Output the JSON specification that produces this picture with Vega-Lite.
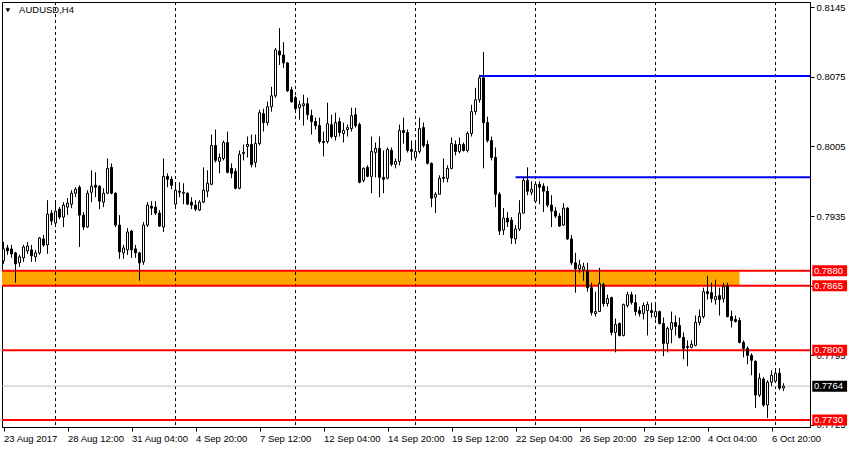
{
"$schema": "https://vega.github.io/schema/vega-lite/v6.json",
"width": 808, "height": 425,
"autosize": {"type": "none"},
"padding": {"left": 2, "top": 2, "right": 40, "bottom": 23},
"background": "white",
"config": {"view": {"stroke": "black", "strokeWidth": 1}, "font": "Liberation Sans", "scale": {"continuousPadding": 0}},
"datasets": {"candles": [
{"i":0,"o":0.7890,"h":0.7909,"l":0.7887,"c":0.7902},
{"i":1,"o":0.7903,"h":0.7906,"l":0.7896,"c":0.7900},
{"i":2,"o":0.7902,"h":0.7906,"l":0.7893,"c":0.7897},
{"i":3,"o":0.7898,"h":0.7899,"l":0.7868,"c":0.7887},
{"i":4,"o":0.7888,"h":0.7896,"l":0.7884,"c":0.7894},
{"i":5,"o":0.7893,"h":0.7906,"l":0.7889,"c":0.7904},
{"i":6,"o":0.7900,"h":0.7909,"l":0.7897,"c":0.7905},
{"i":7,"o":0.7901,"h":0.7906,"l":0.7889,"c":0.7895},
{"i":8,"o":0.7894,"h":0.7901,"l":0.7889,"c":0.7898},
{"i":9,"o":0.7898,"h":0.7914,"l":0.7896,"c":0.7913},
{"i":10,"o":0.7912,"h":0.7916,"l":0.7904,"c":0.7906},
{"i":11,"o":0.7906,"h":0.7951,"l":0.7897,"c":0.7937},
{"i":12,"o":0.7938,"h":0.7941,"l":0.7926,"c":0.7930},
{"i":13,"o":0.7928,"h":0.7951,"l":0.7924,"c":0.7940},
{"i":14,"o":0.7942,"h":0.7944,"l":0.7932,"c":0.7934},
{"i":15,"o":0.7934,"h":0.7949,"l":0.7924,"c":0.7946},
{"i":16,"o":0.7944,"h":0.7953,"l":0.7936,"c":0.7948},
{"i":17,"o":0.7947,"h":0.7961,"l":0.7943,"c":0.7958},
{"i":18,"o":0.7958,"h":0.7964,"l":0.7954,"c":0.7962},
{"i":19,"o":0.7964,"h":0.7966,"l":0.7904,"c":0.7936},
{"i":20,"o":0.7936,"h":0.7939,"l":0.7921,"c":0.7924},
{"i":21,"o":0.7924,"h":0.7961,"l":0.7923,"c":0.7958},
{"i":22,"o":0.7959,"h":0.7981,"l":0.7949,"c":0.7965},
{"i":23,"o":0.7966,"h":0.7979,"l":0.7954,"c":0.7964},
{"i":24,"o":0.7965,"h":0.7966,"l":0.7942,"c":0.7950},
{"i":25,"o":0.7949,"h":0.7963,"l":0.7944,"c":0.7958},
{"i":26,"o":0.7958,"h":0.7993,"l":0.7957,"c":0.7983},
{"i":27,"o":0.7984,"h":0.7988,"l":0.7957,"c":0.7958},
{"i":28,"o":0.7958,"h":0.7959,"l":0.7924,"c":0.7926},
{"i":29,"o":0.7926,"h":0.7936,"l":0.7892,"c":0.7899},
{"i":30,"o":0.7898,"h":0.7906,"l":0.7892,"c":0.7903},
{"i":31,"o":0.7901,"h":0.7923,"l":0.7896,"c":0.7919},
{"i":32,"o":0.7920,"h":0.7921,"l":0.7893,"c":0.7901},
{"i":33,"o":0.7902,"h":0.7906,"l":0.7893,"c":0.7898},
{"i":34,"o":0.7898,"h":0.7899,"l":0.7870,"c":0.7888},
{"i":35,"o":0.7889,"h":0.7929,"l":0.7886,"c":0.7926},
{"i":36,"o":0.7926,"h":0.7949,"l":0.7924,"c":0.7946},
{"i":37,"o":0.7945,"h":0.7950,"l":0.7936,"c":0.7943},
{"i":38,"o":0.7944,"h":0.7950,"l":0.7936,"c":0.7938},
{"i":39,"o":0.7938,"h":0.7941,"l":0.7924,"c":0.7925},
{"i":40,"o":0.7924,"h":0.7993,"l":0.7919,"c":0.7975},
{"i":41,"o":0.7975,"h":0.7978,"l":0.7964,"c":0.7972},
{"i":42,"o":0.7972,"h":0.7975,"l":0.7962,"c":0.7966},
{"i":43,"o":0.7947,"h":0.7969,"l":0.7943,"c":0.7961},
{"i":44,"o":0.7960,"h":0.7969,"l":0.7954,"c":0.7959},
{"i":45,"o":0.7958,"h":0.7968,"l":0.7947,"c":0.7959},
{"i":46,"o":0.7958,"h":0.7959,"l":0.7946,"c":0.7947},
{"i":47,"o":0.7949,"h":0.7954,"l":0.7942,"c":0.7946},
{"i":48,"o":0.7946,"h":0.7951,"l":0.7940,"c":0.7942},
{"i":49,"o":0.7941,"h":0.7951,"l":0.7940,"c":0.7949},
{"i":50,"o":0.7949,"h":0.7984,"l":0.7948,"c":0.7961},
{"i":51,"o":0.7960,"h":0.7981,"l":0.7954,"c":0.7968},
{"i":52,"o":0.7967,"h":0.8017,"l":0.7966,"c":0.8006},
{"i":53,"o":0.8006,"h":0.8022,"l":0.7989,"c":0.7991},
{"i":54,"o":0.7990,"h":0.7998,"l":0.7978,"c":0.7994},
{"i":55,"o":0.7993,"h":0.8011,"l":0.7991,"c":0.8009},
{"i":56,"o":0.8009,"h":0.8020,"l":0.7978,"c":0.7979},
{"i":57,"o":0.7983,"h":0.7988,"l":0.7973,"c":0.7978},
{"i":58,"o":0.7980,"h":0.7983,"l":0.7962,"c":0.7963},
{"i":59,"o":0.7963,"h":0.8001,"l":0.7962,"c":0.7997},
{"i":60,"o":0.7998,"h":0.8007,"l":0.7991,"c":0.7999},
{"i":61,"o":0.8005,"h":0.8015,"l":0.7994,"c":0.8007},
{"i":62,"o":0.8007,"h":0.8017,"l":0.7984,"c":0.7987},
{"i":63,"o":0.7989,"h":0.8017,"l":0.7984,"c":0.8008},
{"i":64,"o":0.8008,"h":0.8042,"l":0.8006,"c":0.8039},
{"i":65,"o":0.8038,"h":0.8043,"l":0.8020,"c":0.8029},
{"i":66,"o":0.8029,"h":0.8050,"l":0.8026,"c":0.8045},
{"i":67,"o":0.8045,"h":0.8065,"l":0.8040,"c":0.8056},
{"i":68,"o":0.8056,"h":0.8104,"l":0.8054,"c":0.8102},
{"i":69,"o":0.8101,"h":0.8124,"l":0.8087,"c":0.8097},
{"i":70,"o":0.8097,"h":0.8110,"l":0.8084,"c":0.8089},
{"i":71,"o":0.8089,"h":0.8090,"l":0.8060,"c":0.8061},
{"i":72,"o":0.8062,"h":0.8065,"l":0.8049,"c":0.8050},
{"i":73,"o":0.8054,"h":0.8056,"l":0.8040,"c":0.8043},
{"i":74,"o":0.8044,"h":0.8051,"l":0.8032,"c":0.8047},
{"i":75,"o":0.8046,"h":0.8057,"l":0.8026,"c":0.8048},
{"i":76,"o":0.8048,"h":0.8054,"l":0.8032,"c":0.8037},
{"i":77,"o":0.8036,"h":0.8042,"l":0.8017,"c":0.8030},
{"i":78,"o":0.8030,"h":0.8034,"l":0.8022,"c":0.8026},
{"i":79,"o":0.8026,"h":0.8034,"l":0.8008,"c":0.8010},
{"i":80,"o":0.8010,"h":0.8020,"l":0.7995,"c":0.8009},
{"i":81,"o":0.8010,"h":0.8049,"l":0.8008,"c":0.8028},
{"i":82,"o":0.8027,"h":0.8037,"l":0.8013,"c":0.8015},
{"i":83,"o":0.8015,"h":0.8039,"l":0.8011,"c":0.8029},
{"i":84,"o":0.8030,"h":0.8034,"l":0.8015,"c":0.8019},
{"i":85,"o":0.8018,"h":0.8029,"l":0.8009,"c":0.8021},
{"i":86,"o":0.8022,"h":0.8027,"l":0.8015,"c":0.8024},
{"i":87,"o":0.8023,"h":0.8044,"l":0.8020,"c":0.8036},
{"i":88,"o":0.8037,"h":0.8044,"l":0.8024,"c":0.8026},
{"i":89,"o":0.8027,"h":0.8029,"l":0.7968,"c":0.7969},
{"i":90,"o":0.7971,"h":0.7984,"l":0.7969,"c":0.7983},
{"i":91,"o":0.7984,"h":0.7986,"l":0.7974,"c":0.7975},
{"i":92,"o":0.7975,"h":0.8015,"l":0.7958,"c":0.8000},
{"i":93,"o":0.7999,"h":0.8009,"l":0.7974,"c":0.8003},
{"i":94,"o":0.8003,"h":0.8015,"l":0.7954,"c":0.7974},
{"i":95,"o":0.7974,"h":0.8001,"l":0.7958,"c":0.7972},
{"i":96,"o":0.7973,"h":0.8004,"l":0.7972,"c":0.8002},
{"i":97,"o":0.8001,"h":0.8004,"l":0.7985,"c":0.7987},
{"i":98,"o":0.7987,"h":0.7993,"l":0.7983,"c":0.7990},
{"i":99,"o":0.7990,"h":0.8027,"l":0.7986,"c":0.8021},
{"i":100,"o":0.8021,"h":0.8034,"l":0.8008,"c":0.8019},
{"i":101,"o":0.8019,"h":0.8022,"l":0.7999,"c":0.8001},
{"i":102,"o":0.8002,"h":0.8011,"l":0.7991,"c":0.8000},
{"i":103,"o":0.7994,"h":0.8009,"l":0.7992,"c":0.8000},
{"i":104,"o":0.8000,"h":0.8034,"l":0.7998,"c":0.8023},
{"i":105,"o":0.8024,"h":0.8029,"l":0.8004,"c":0.8006},
{"i":106,"o":0.8007,"h":0.8011,"l":0.7987,"c":0.7988},
{"i":107,"o":0.7988,"h":0.7989,"l":0.7944,"c":0.7953},
{"i":108,"o":0.7954,"h":0.7959,"l":0.7938,"c":0.7957},
{"i":109,"o":0.7957,"h":0.7976,"l":0.7957,"c":0.7973},
{"i":110,"o":0.7974,"h":0.7993,"l":0.7969,"c":0.7973},
{"i":111,"o":0.7973,"h":0.7986,"l":0.7969,"c":0.7983},
{"i":112,"o":0.7983,"h":0.8014,"l":0.7982,"c":0.8008},
{"i":113,"o":0.8007,"h":0.8011,"l":0.7996,"c":0.8000},
{"i":114,"o":0.8000,"h":0.8014,"l":0.7998,"c":0.8007},
{"i":115,"o":0.8007,"h":0.8009,"l":0.8000,"c":0.8001},
{"i":116,"o":0.8001,"h":0.8020,"l":0.7999,"c":0.8018},
{"i":117,"o":0.8018,"h":0.8047,"l":0.8015,"c":0.8040},
{"i":118,"o":0.8040,"h":0.8064,"l":0.8037,"c":0.8052},
{"i":119,"o":0.8052,"h":0.8077,"l":0.8049,"c":0.8074},
{"i":120,"o":0.8074,"h":0.8100,"l":0.7983,"c":0.8029},
{"i":121,"o":0.8029,"h":0.8035,"l":0.8009,"c":0.8011},
{"i":122,"o":0.8011,"h":0.8015,"l":0.7991,"c":0.7994},
{"i":123,"o":0.7994,"h":0.8004,"l":0.7944,"c":0.7957},
{"i":124,"o":0.7957,"h":0.7959,"l":0.7916,"c":0.7920},
{"i":125,"o":0.7921,"h":0.7943,"l":0.7916,"c":0.7933},
{"i":126,"o":0.7933,"h":0.7939,"l":0.7924,"c":0.7929},
{"i":127,"o":0.7931,"h":0.7934,"l":0.7907,"c":0.7913},
{"i":128,"o":0.7912,"h":0.7926,"l":0.7907,"c":0.7922},
{"i":129,"o":0.7922,"h":0.7951,"l":0.7920,"c":0.7938},
{"i":130,"o":0.7938,"h":0.7974,"l":0.7938,"c":0.7971},
{"i":131,"o":0.7971,"h":0.7984,"l":0.7956,"c":0.7960},
{"i":132,"o":0.7959,"h":0.7970,"l":0.7956,"c":0.7962},
{"i":133,"o":0.7950,"h":0.7970,"l":0.7949,"c":0.7967},
{"i":134,"o":0.7967,"h":0.7970,"l":0.7947,"c":0.7964},
{"i":135,"o":0.7965,"h":0.7968,"l":0.7939,"c":0.7960},
{"i":136,"o":0.7960,"h":0.7965,"l":0.7944,"c":0.7946},
{"i":137,"o":0.7946,"h":0.7956,"l":0.7924,"c":0.7940},
{"i":138,"o":0.7940,"h":0.7944,"l":0.7933,"c":0.7935},
{"i":139,"o":0.7935,"h":0.7938,"l":0.7924,"c":0.7925},
{"i":140,"o":0.7926,"h":0.7948,"l":0.7925,"c":0.7943},
{"i":141,"o":0.7943,"h":0.7944,"l":0.7911,"c":0.7912},
{"i":142,"o":0.7912,"h":0.7916,"l":0.7886,"c":0.7888},
{"i":143,"o":0.7888,"h":0.7898,"l":0.7858,"c":0.7882},
{"i":144,"o":0.7882,"h":0.7891,"l":0.7878,"c":0.7886},
{"i":145,"o":0.7881,"h":0.7888,"l":0.7870,"c":0.7884},
{"i":146,"o":0.7880,"h":0.7888,"l":0.7859,"c":0.7863},
{"i":147,"o":0.7863,"h":0.7868,"l":0.7835,"c":0.7838},
{"i":148,"o":0.7837,"h":0.7859,"l":0.7834,"c":0.7839},
{"i":149,"o":0.7839,"h":0.7883,"l":0.7839,"c":0.7867},
{"i":150,"o":0.7866,"h":0.7868,"l":0.7844,"c":0.7847},
{"i":151,"o":0.7847,"h":0.7856,"l":0.7844,"c":0.7852},
{"i":152,"o":0.7853,"h":0.7854,"l":0.7815,"c":0.7818},
{"i":153,"o":0.7818,"h":0.7832,"l":0.7798,"c":0.7826},
{"i":154,"o":0.7827,"h":0.7828,"l":0.7814,"c":0.7815},
{"i":155,"o":0.7815,"h":0.7847,"l":0.7814,"c":0.7846},
{"i":156,"o":0.7845,"h":0.7859,"l":0.7843,"c":0.7856},
{"i":157,"o":0.7856,"h":0.7859,"l":0.7846,"c":0.7848},
{"i":158,"o":0.7848,"h":0.7856,"l":0.7835,"c":0.7839},
{"i":159,"o":0.7840,"h":0.7844,"l":0.7834,"c":0.7837},
{"i":160,"o":0.7837,"h":0.7848,"l":0.7831,"c":0.7845},
{"i":161,"o":0.7840,"h":0.7849,"l":0.7815,"c":0.7846},
{"i":162,"o":0.7840,"h":0.7848,"l":0.7833,"c":0.7838},
{"i":163,"o":0.7834,"h":0.7848,"l":0.7831,"c":0.7839},
{"i":164,"o":0.7839,"h":0.7840,"l":0.7826,"c":0.7827},
{"i":165,"o":0.7827,"h":0.7833,"l":0.7794,"c":0.7807},
{"i":166,"o":0.7807,"h":0.7824,"l":0.7798,"c":0.7822},
{"i":167,"o":0.7821,"h":0.7839,"l":0.7807,"c":0.7828},
{"i":168,"o":0.7828,"h":0.7835,"l":0.7815,"c":0.7824},
{"i":169,"o":0.7825,"h":0.7833,"l":0.7812,"c":0.7813},
{"i":170,"o":0.7813,"h":0.7818,"l":0.7791,"c":0.7802},
{"i":171,"o":0.7804,"h":0.7810,"l":0.7784,"c":0.7803},
{"i":172,"o":0.7803,"h":0.7810,"l":0.7802,"c":0.7806},
{"i":173,"o":0.7805,"h":0.7835,"l":0.7804,"c":0.7828},
{"i":174,"o":0.7828,"h":0.7841,"l":0.7825,"c":0.7834},
{"i":175,"o":0.7834,"h":0.7863,"l":0.7832,"c":0.7859},
{"i":176,"o":0.7859,"h":0.7875,"l":0.7851,"c":0.7857},
{"i":177,"o":0.7858,"h":0.7868,"l":0.7848,"c":0.7852},
{"i":178,"o":0.7851,"h":0.7871,"l":0.7846,"c":0.7854},
{"i":179,"o":0.7855,"h":0.7863,"l":0.7835,"c":0.7851},
{"i":180,"o":0.7852,"h":0.7868,"l":0.7848,"c":0.7864},
{"i":181,"o":0.7865,"h":0.7868,"l":0.7833,"c":0.7834},
{"i":182,"o":0.7834,"h":0.7840,"l":0.7823,"c":0.7830},
{"i":183,"o":0.7831,"h":0.7835,"l":0.7828,"c":0.7829},
{"i":184,"o":0.7830,"h":0.7833,"l":0.7807,"c":0.7808},
{"i":185,"o":0.7808,"h":0.7810,"l":0.7793,"c":0.7802},
{"i":186,"o":0.7802,"h":0.7804,"l":0.7786,"c":0.7795},
{"i":187,"o":0.7795,"h":0.7797,"l":0.7775,"c":0.7790},
{"i":188,"o":0.7789,"h":0.7790,"l":0.7742,"c":0.7755},
{"i":189,"o":0.7755,"h":0.7777,"l":0.7753,"c":0.7772},
{"i":190,"o":0.7771,"h":0.7773,"l":0.7743,"c":0.7745},
{"i":191,"o":0.7745,"h":0.7770,"l":0.7732,"c":0.7768},
{"i":192,"o":0.7768,"h":0.7780,"l":0.7764,"c":0.7775},
{"i":193,"o":0.7769,"h":0.7782,"l":0.7767,"c":0.7777},
{"i":194,"o":0.7777,"h":0.7782,"l":0.7760,"c":0.7762},
{"i":195,"o":0.7762,"h":0.7767,"l":0.7759,"c":0.7764}
]},
"layer": [
{"data": {"name": "candles"},
 "mark": {"type": "bar", "width": 2, "stroke": "black", "strokeWidth": 1, "orient": "vertical"},
 "encoding": {
  "x": {"field": "i", "type": "quantitative", "scale": {"domain": [-0.375, 201.625], "nice": false, "zero": false, "padding": 0},
   "axis": {"title": null, "values": [0, 16, 32, 48, 64, 80, 96, 112, 128, 144, 160, 176, 192],
    "labelExpr": "['23 Aug 2017','28 Aug 12:00','31 Aug 04:00','4 Sep 20:00','7 Sep 12:00','12 Sep 04:00','14 Sep 20:00','19 Sep 12:00','22 Sep 04:00','26 Sep 20:00','29 Sep 12:00','4 Oct 04:00','6 Oct 20:00'][round(datum.value/16)]",
    "grid": false, "domainColor": "black", "tickColor": "black", "tickSize": 4, "labelAlign": "left", "labelBaseline": "top", "labelPadding": 2,
    "labelFont": "Liberation Sans", "labelFontSize": 9.5, "labelColor": "black", "labelOverlap": false, "labelFlush": false, "labelBound": false}},
  "y": {"field": "o", "type": "quantitative", "scale": {"domain": [0.77229, 0.81503], "nice": false, "zero": false, "padding": 0},
   "axis": {"title": null, "orient": "right", "values": [0.8145, 0.811, 0.8075, 0.804, 0.8005, 0.797, 0.7935, 0.79, 0.7865, 0.783, 0.7795, 0.776, 0.7725],
    "format": ".4f", "grid": false, "domainColor": "black", "tickColor": "black", "tickSize": 4, "labelPadding": 2,
    "labelFont": "Liberation Sans", "labelFontSize": 9.5, "labelColor": "black", "labelOverlap": false, "labelFlush": false, "labelBound": false}},
  "y2": {"field": "c"},
  "fill": {"value": "white"},
  "opacity": {"value": 0}}},
{"data": {"values": [{"x0": -0.375, "x1": 184, "p0": 0.7865, "p1": 0.7880}]},
 "mark": {"type": "rect", "fill": "#FFA500"},
 "encoding": {
  "x": {"field": "x0", "type": "quantitative"},
  "x2": {"field": "x1"},
  "y": {"field": "p0", "type": "quantitative"},
  "y2": {"field": "p1"}}},
{"data": {"values": [{"w": 13}, {"w": 43}, {"w": 73}, {"w": 103}, {"w": 133}, {"w": 163}, {"w": 193}]},
 "mark": {"type": "rule", "color": "black", "strokeWidth": 1, "strokeDash": [3, 3]},
 "encoding": {
  "x": {"field": "w", "type": "quantitative"}}},
{"data": {"values": [{"p": 0.7764}]},
 "mark": {"type": "rule", "color": "#C0C0C0", "strokeWidth": 1},
 "encoding": {
  "y": {"field": "p", "type": "quantitative"}}},
{"data": {"values": [{"p": 0.7880}, {"p": 0.7865}, {"p": 0.7800}, {"p": 0.7730}]},
 "mark": {"type": "rule", "color": "#FF0000", "strokeWidth": 2},
 "encoding": {
  "y": {"field": "p", "type": "quantitative"}}},
{"data": {"values": [{"p": 0.8076, "x0": 119, "x1": 201.625}, {"p": 0.7974, "x0": 128, "x1": 201.625}]},
 "mark": {"type": "rule", "color": "#0000FF", "strokeWidth": 2},
 "encoding": {
  "x": {"field": "x0", "type": "quantitative"},
  "x2": {"field": "x1"},
  "y": {"field": "p", "type": "quantitative"}}},
{"data": {"name": "candles"},
 "mark": {"type": "rule", "color": "black", "strokeWidth": 1},
 "encoding": {
  "x": {"field": "i", "type": "quantitative"},
  "y": {"field": "l", "type": "quantitative"},
  "y2": {"field": "h"}}},
{"data": {"name": "candles"},
 "mark": {"type": "bar", "width": 2, "stroke": "black", "strokeWidth": 1, "orient": "vertical"},
 "encoding": {
  "x": {"field": "i", "type": "quantitative"},
  "y": {"field": "o", "type": "quantitative"},
  "y2": {"field": "c"},
  "fill": {"condition": {"test": "datum.c >= datum.o", "value": "white"}, "value": "black"}}},
{"data": {"values": [{"p": 0.7880, "t": "0.7880"}, {"p": 0.7865, "t": "0.7865"}, {"p": 0.7800, "t": "0.7800"}, {"p": 0.7764, "t": "0.7764"}, {"p": 0.7730, "t": "0.7730"}]},
 "mark": {"type": "bar", "height": 11, "orient": "horizontal"},
 "encoding": {
  "x": {"datum": 202.2, "type": "quantitative"},
  "x2": {"datum": 210.9},
  "y": {"field": "p", "type": "quantitative"},
  "fill": {"condition": {"test": "datum.p == 0.7764", "value": "black"}, "value": "#FF0000"}}},
{"data": {"values": [{"p": 0.7880, "t": "0.7880"}, {"p": 0.7865, "t": "0.7865"}, {"p": 0.7800, "t": "0.7800"}, {"p": 0.7764, "t": "0.7764"}, {"p": 0.7730, "t": "0.7730"}]},
 "mark": {"type": "text", "align": "left", "baseline": "middle", "font": "Liberation Sans", "fontSize": 9.5, "color": "white"},
 "encoding": {
  "x": {"datum": 202.6, "type": "quantitative"},
  "y": {"field": "p", "type": "quantitative"},
  "text": {"field": "t"}}},
{"data": {"values": [{"t": "AUDUSD,H4"}]},
 "mark": {"type": "text", "align": "left", "baseline": "middle", "font": "Liberation Sans", "fontSize": 9.5, "color": "black"},
 "encoding": {
  "x": {"datum": 3.9, "type": "quantitative"},
  "y": {"datum": 0.8142, "type": "quantitative"},
  "text": {"field": "t"}}},
{"data": {"values": [{"t": "tri"}]},
 "mark": {"type": "point", "shape": "triangle-down", "filled": true, "color": "black", "size": 22, "opacity": 1},
 "encoding": {
  "x": {"datum": 1.1, "type": "quantitative"},
  "y": {"datum": 0.8142, "type": "quantitative"}}}
]
}
